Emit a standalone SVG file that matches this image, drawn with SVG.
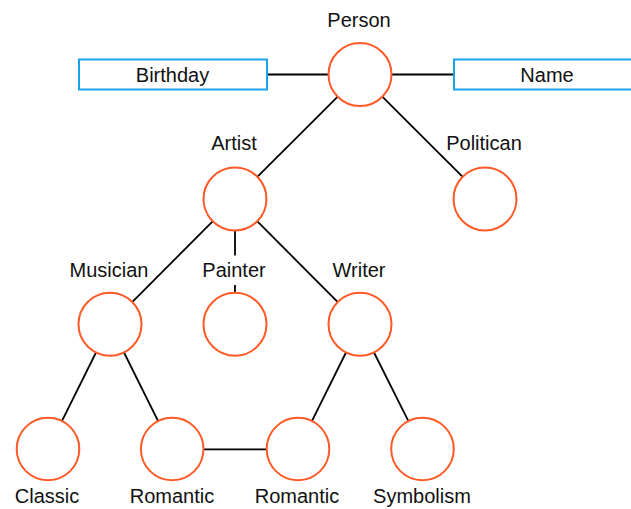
<svg xmlns="http://www.w3.org/2000/svg" width="631" height="509" viewBox="0 0 631 509">
  <style>
    .node { fill: #ffffff; stroke: #ff5a26; stroke-width: 2; }
    .attr { fill: #ffffff; stroke: #1aa3e8; stroke-width: 2; }
    .edge { stroke: #000000; stroke-width: 1.8; fill: none; }
    .label { font-family: "Liberation Sans", Arial, Helvetica, sans-serif; font-size: 20px; fill: #111111; text-anchor: middle; }
  </style>
  <rect width="631" height="509" fill="#ffffff"/>

  <!-- connectors -->
  <g id="connectors">
    <line class="edge" x1="267" y1="74.5" x2="328.5" y2="74.5"/>
    <line class="edge" x1="391.5" y1="74.5" x2="454" y2="74.5"/>
    <line class="edge" x1="337.7" y1="96.7" x2="257.3" y2="176.8"/>
    <line class="edge" x1="382.3" y1="96.7" x2="462.7" y2="176.8"/>
    <line class="edge" x1="212.6" y1="221.4" x2="132.4" y2="301.9"/>
    <line class="edge" x1="235" y1="230.5" x2="235" y2="292.7"/>
    <line class="edge" x1="257.4" y1="221.4" x2="337.6" y2="301.9"/>
    <line class="edge" x1="96" y1="352.5" x2="62" y2="420.8"/>
    <line class="edge" x1="124" y1="352.5" x2="158" y2="420.8"/>
    <line class="edge" x1="346" y1="352.5" x2="312" y2="420.8"/>
    <line class="edge" x1="374" y1="352.5" x2="408.3" y2="420.8"/>
    <line class="edge" x1="203.5" y1="449.3" x2="266.5" y2="449.3"/>
  </g>

  <!-- attribute boxes -->
  <g id="birthday">
    <rect class="attr" x="79" y="59.5" width="188" height="30"/>
    <text class="label" x="172.5" y="81.5">Birthday</text>
  </g>
  <g id="name">
    <rect class="attr" x="454" y="59.5" width="186" height="30"/>
    <text class="label" x="547" y="81.5">Name</text>
  </g>

  <!-- entity nodes -->
  <g id="person">
    <circle class="node" cx="360" cy="74.5" r="31.5"/>
    <text class="label" x="359" y="27">Person</text>
  </g>
  <g id="artist">
    <circle class="node" cx="235" cy="199" r="31.5"/>
    <text class="label" x="234" y="150">Artist</text>
  </g>
  <g id="politican">
    <circle class="node" cx="485" cy="199" r="31.5"/>
    <text class="label" x="484" y="150">Politican</text>
  </g>
  <g id="musician">
    <circle class="node" cx="110" cy="324.3" r="31.5"/>
    <text class="label" x="109" y="277">Musician</text>
  </g>
  <g id="painter">
    <circle class="node" cx="235" cy="324.3" r="31.5"/>
    <rect x="200" y="255.5" width="70" height="29.5" fill="#ffffff"/>
    <text class="label" x="234" y="277">Painter</text>
  </g>
  <g id="writer">
    <circle class="node" cx="360" cy="324.3" r="31.5"/>
    <text class="label" x="359" y="277">Writer</text>
  </g>
  <g id="classic">
    <circle class="node" cx="48" cy="449" r="31.3"/>
    <text class="label" x="47" y="503">Classic</text>
  </g>
  <g id="romantic-music">
    <circle class="node" cx="172.2" cy="449" r="31.3"/>
    <text class="label" x="172" y="503">Romantic</text>
  </g>
  <g id="romantic-writing">
    <circle class="node" cx="298" cy="449" r="31.3"/>
    <text class="label" x="297" y="503">Romantic</text>
  </g>
  <g id="symbolism">
    <circle class="node" cx="422.5" cy="449" r="31.3"/>
    <text class="label" x="422" y="503">Symbolism</text>
  </g>
</svg>
